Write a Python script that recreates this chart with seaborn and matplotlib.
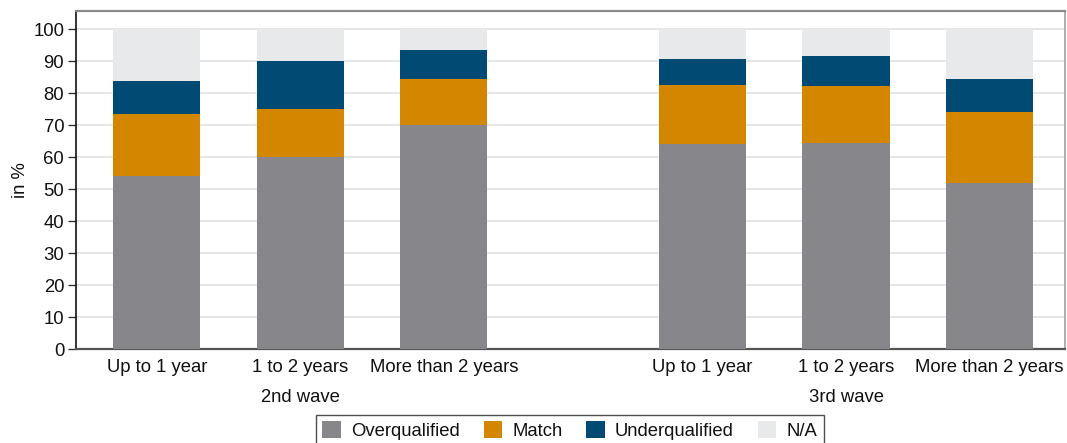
import matplotlib
matplotlib.use("Agg")
import matplotlib.pyplot as plt
import matplotlib.transforms as mtransforms
from matplotlib.patches import Patch
import numpy as np
import pandas as pd
import seaborn as sns

# Job/qualification match by time in job, two survey waves
durations = ["Up to 1 year", "1 to 2 years", "More than 2 years"]
waves = ["2nd wave", "3rd wave"]
series = ["Overqualified", "Match", "Underqualified", "N/A"]

overqualified = [54.0, 60.0, 70.0, 64.0, 64.5, 52.0]
match = [19.5, 15.0, 14.3, 18.7, 17.9, 22.0]
underqualified = [10.4, 15.0, 9.2, 8.1, 9.1, 10.3]

colors = {
    "Overqualified": "#87868b",
    "Match": "#d38600",
    "Underqualified": "#004a73",
    "N/A": "#e8e9eb",
}

# bar centres: three bars per wave, with a wider gap between waves
positions = [0.0, 1.0, 2.0, 3.8, 4.8, 5.8]

sns.set_theme(style="white")
plt.rcParams["font.family"] = ["Liberation Sans", "DejaVu Sans"]
plt.rcParams["text.color"] = "#111111"

FS = 13.3

over = np.array(overqualified)
cum_match = over + np.array(match)
cum_under = cum_match + np.array(underqualified)
na_total = np.full(len(over), 100.0)

df = pd.DataFrame({
    "pos": positions,
    "N/A": na_total,
    "Underqualified": cum_under,
    "Match": cum_match,
    "Overqualified": over,
})

fig = plt.figure(figsize=(10.67, 4.43), dpi=100)
ax = fig.add_axes([76 / 1067, 1 - 349 / 443, (1065 - 76) / 1067, (349 - 11) / 443])

# draw cumulative layers from the top segment downwards so they stack
for name in ["N/A", "Underqualified", "Match", "Overqualified"]:
    sns.barplot(data=df, x="pos", y=name, native_scale=True, width=0.606,
                color=colors[name], saturation=1, linewidth=0, ax=ax,
                zorder=3)

ax.set_xlim(-0.562, 6.325)
ax.set_ylim(0, 105.7)
ax.set_yticks(np.arange(0, 101, 10))
ax.set_yticklabels([str(v) for v in range(0, 101, 10)], fontsize=FS,
                   color="#111111")
ax.yaxis.grid(True, color="#e4e4e4", linewidth=1.3, zorder=0)
ax.set_axisbelow(True)
ax.tick_params(axis="y", length=5.5, width=1, color="#333333", pad=3,
               left=True)
ax.tick_params(axis="x", length=0, pad=7)

ax.set_xticks(positions)
ax.set_xticklabels(durations * 2, fontsize=FS, color="#111111")
ax.set_xlabel("")
ax.set_ylabel("in %", fontsize=FS, labelpad=3, color="#111111")

for side, col, lw in [("left", "#111111", 1.2), ("bottom", "#555555", 1.6),
                      ("top", "#8a8a8a", 1.6), ("right", "#a0a0a0", 1.2)]:
    ax.spines[side].set_visible(True)
    ax.spines[side].set_color(col)
    ax.spines[side].set_linewidth(lw)

# wave labels under the middle bar of each group
trans = mtransforms.blended_transform_factory(ax.transData, fig.transFigure)
for wave, centre in zip(waves, [positions[1], positions[4]]):
    ax.text(centre, 1 - 398 / 443, wave, transform=trans, ha="center",
            va="center", fontsize=FS)

handles = [Patch(facecolor=colors[s], edgecolor="none", label=s) for s in series]
leg = fig.legend(handles=handles, ncol=4, loc="upper left",
                 bbox_to_anchor=(316 / 1067, 1 - 415 / 443),
                 fontsize=FS, frameon=True, fancybox=False,
                 handlelength=1.0, handleheight=1.0, handletextpad=0.54,
                 columnspacing=1.3, borderpad=0.35, borderaxespad=0)
leg.get_frame().set_edgecolor("#222222")
leg.get_frame().set_linewidth(1.0)

fig.savefig("out.png", dpi=100)
